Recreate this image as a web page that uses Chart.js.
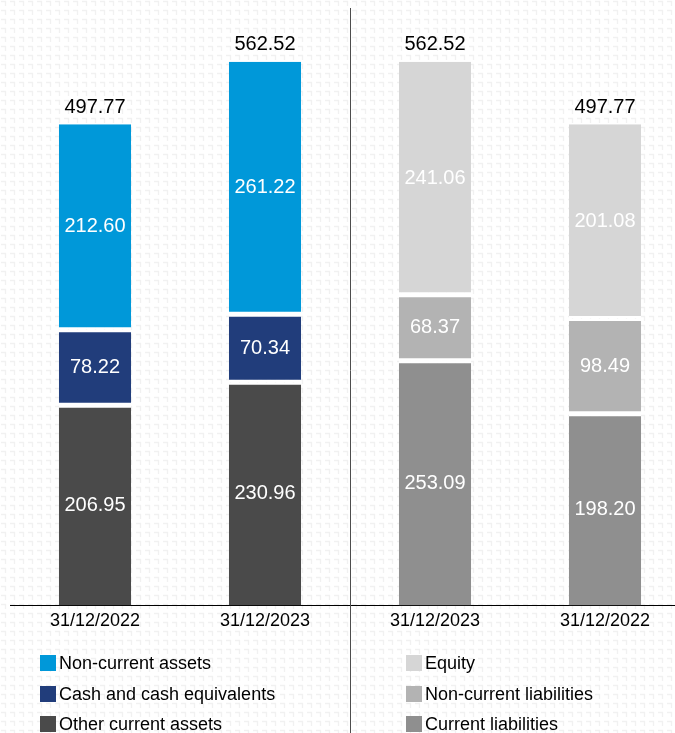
<!DOCTYPE html>
<html>
<head>
<meta charset="utf-8">
<script src="https://cdn.jsdelivr.net/npm/chart.js@4.4.1/dist/chart.umd.min.js"></script>
<style>
  html, body {
    margin: 0;
    padding: 0;
    overflow: hidden;
    width: 675px;
    height: 733px;
    background-color: #ffffff;
    background-image: url("data:image/svg+xml;utf8,<svg xmlns='http://www.w3.org/2000/svg' width='9' height='9'><path d='M1 1.5H5.5V6' fill='none' stroke='%23f1f1f1' stroke-width='1.3'/></svg>");
    background-size: 9px 9px;
  }
  #wrap { width: 690px; height: 733px; }
</style>
</head>
<body>
<div id="wrap"><canvas id="balance" width="690" height="733"></canvas></div>
<script>
/* --------------- Data --------------------- */
const dates = ["31/12/2022", "31/12/2023", "31/12/2023", "31/12/2022"];
const otherCurrentAssets = [206.95, 230.96, null, null];
const cashEquivalents = [78.22, 70.34, null, null];
const nonCurrentAssets = [212.6, 261.22, null, null];
const currentLiabilities = [null, null, 253.09, 198.2];
const nonCurrentLiabilities = [null, null, 68.37, 98.49];
const equity = [null, null, 241.06, 201.08];
const totals = [497.77, 562.52, 562.52, 497.77];

/* --------------- Colors --------------------- */
const colors = {
  other: "#4a4a4a",
  cash: "#213d7b",
  nonCurrent: "#0098d9",
  current: "#8f8f8f",
  nonCurrentLiab: "#b3b3b3",
  equity: "#d6d6d6",
};

const FONT = "'Liberation Sans', Arial, sans-serif";

// white gaps between stacked pieces
const gapBottom = { top: 2.5, bottom: 0, left: 0, right: 0 };
const gapMiddle = { top: 2.5, bottom: 2.5, left: 0, right: 0 };
const gapTop = { top: 0, bottom: 2.5, left: 0, right: 0 };

const makeSet = (label, data, color, border, legendCol) => ({
  label: label,
  data: data,
  backgroundColor: color,
  borderColor: "#ffffff",
  borderWidth: border,
  borderSkipped: false,
  barPercentage: 0.85,
  categoryPercentage: 0.5,
  legendCol: legendCol,
});

/* --------------- Plugin: values, totals, separator, legend --------------------- */
const balanceExtras = {
  id: "balanceExtras",
  afterDatasetsDraw(chart) {
    const ctx = chart.ctx;
    const xs = chart.scales.x;
    ctx.save();
    ctx.textAlign = "center";
    ctx.textBaseline = "middle";
    ctx.font = "20px " + FONT;
    ctx.fillStyle = "#ffffff";
    chart.data.datasets.forEach((ds, di) => {
      const meta = chart.getDatasetMeta(di);
      meta.data.forEach((bar, i) => {
        if (ds.data[i] == null) return;
        const p = bar.getProps(["x", "y", "base"], true);
        ctx.fillText(ds.data[i].toFixed(2), p.x, (p.y + p.base) / 2);
      });
    });
    // totals on top
    ctx.fillStyle = "#000000";
    ctx.textBaseline = "bottom";
    totals.forEach((t, i) => {
      const x = xs.getPixelForTick(i);
      const y = chart.scales.y.getPixelForValue(t);
      ctx.fillText(t.toFixed(2), x, y - 7);
    });
    // separator between assets and liabilities
    const sx = Math.round((xs.getPixelForTick(1) + xs.getPixelForTick(2)) / 2) + 0.5;
    ctx.strokeStyle = "#4d4d4d";
    ctx.lineWidth = 1;
    ctx.beginPath();
    ctx.moveTo(sx, chart.chartArea.top);
    ctx.lineTo(sx, chart.height);
    ctx.stroke();
    // legend, two columns, top item first
    ctx.font = "18px " + FONT;
    ctx.textAlign = "left";
    ctx.textBaseline = "middle";
    const colX = [40, 406];
    const rowY = [663, 694, 724];
    [0, 1].forEach((col) => {
      const items = chart.data.datasets.filter((d) => d.legendCol === col).reverse();
      items.forEach((d, r) => {
        ctx.fillStyle = d.backgroundColor;
        ctx.fillRect(colX[col], rowY[r] - 8, 16, 16);
        ctx.fillStyle = "#000000";
        ctx.fillText(d.label, colX[col] + 19, rowY[r] + 1);
      });
    });
    ctx.restore();
  },
};

/* --------------- Chart --------------------- */
const balanceChart = new Chart(document.getElementById("balance"), {
  type: "bar",
  plugins: [balanceExtras],
  data: {
    labels: dates,
    datasets: [
      makeSet("Other current assets", otherCurrentAssets, colors.other, gapBottom, 0),
      makeSet("Cash and cash equivalents", cashEquivalents, colors.cash, gapMiddle, 0),
      makeSet("Non-current assets", nonCurrentAssets, colors.nonCurrent, gapTop, 0),
      makeSet("Current liabilities", currentLiabilities, colors.current, gapBottom, 1),
      makeSet("Non-current liabilities", nonCurrentLiabilities, colors.nonCurrentLiab, gapMiddle, 1),
      makeSet("Equity", equity, colors.equity, gapTop, 1),
    ],
  },
  options: {
    responsive: false,
    animation: false,
    skipNull: true,
    layout: { padding: { top: 8, left: 10, right: 0, bottom: 96 } },
    plugins: {
      legend: { display: false },
      tooltip: { enabled: false },
    },
    scales: {
      x: {
        stacked: true,
        grid: { display: false, drawTicks: false },
        border: { display: true, color: "#000000", width: 1 },
        ticks: {
          color: "#000000",
          padding: 5,
          font: { family: FONT, size: 18 },
          maxRotation: 0,
        },
      },
      y: {
        stacked: true,
        display: false,
        min: 0,
        max: 618,
      },
    },
  },
});
</script>
</body>
</html>
